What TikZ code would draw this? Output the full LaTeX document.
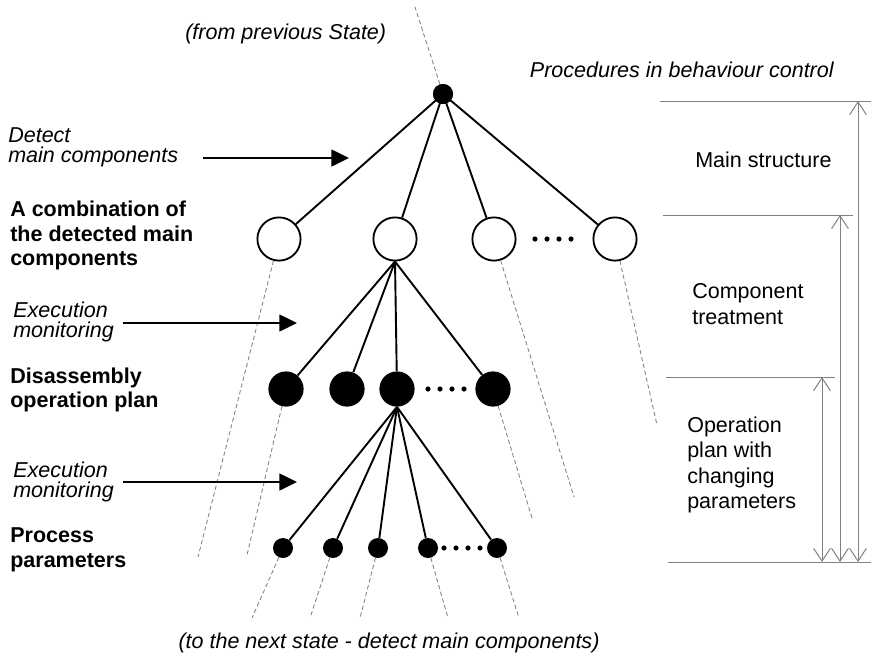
\documentclass[tikz,border=0pt]{standalone}
\usepackage{fontspec}
\setmainfont{Liberation Sans}
\usetikzlibrary{arrows.meta}

\begin{document}
\begin{tikzpicture}[
    x=0.025cm, y=-0.025cm, % one unit = one pixel, y runs downwards
    % tree nodes: adjust minimum size to grow/shrink the levels
    hollow/.style={circle,draw,line width=1.3pt,fill=white,minimum size=1.08cm,inner sep=0pt},
    bigdot/.style={circle,fill=black,minimum size=0.88cm,inner sep=0pt},
    smalldot/.style={circle,fill=black,minimum size=0.5cm,inner sep=0pt},
    tinydot/.style={circle,fill=black,minimum size=0.13cm,inner sep=0pt},
    % connectors
    branch/.style={line width=1.35pt},
    trail/.style={gray,line width=0.6pt,dash pattern=on 3pt off 2pt},
    step arrow/.style={line width=1.35pt,-{Triangle[length=0.44cm,width=0.42cm]}},
    dim/.style={gray,line width=0.7pt},
    dimarrow/.style={gray,line width=0.7pt,{Straight Barb[length=0.32cm,width=0.42cm]}-{Straight Barb[length=0.32cm,width=0.42cm]}},
    % texts: font size / line spacing
    note/.style={font=\fontsize{15.3}{14.6}\selectfont\itshape,align=left,inner sep=0pt},
    leveltxt/.style={font=\fontsize{15.3}{17.4}\selectfont\bfseries,align=left,inner sep=0pt},
    rangetxt/.style={font=\fontsize{15.3}{18}\selectfont,align=left,inner sep=0pt}
]
\useasboundingbox (0,0) rectangle (871,660);

% ==============================
% TUNING KNOBS
% ==============================
\def\yTop{94}    % root dot
\def\yA{239}     % main components
\def\yB{389}     % operation plan
\def\yC{548}     % process parameters
\def\xT{8}       % left text column

% ==============================
% TREE
% ==============================
\node[smalldot] (root) at (443,\yTop) {};

% main components
\node[hollow] (c1) at (279,\yA) {};
\node[hollow] (c2) at (395,\yA) {};
\node[hollow] (c3) at (494,\yA) {};
\node[hollow] (c4) at (615,\yA) {};
\foreach \x [count=\i] in {535,547,559,571}
    \node[tinydot] (cd\i) at (\x,\yA) {};

% operation plan
\node[bigdot] (b1) at (286,\yB) {};
\node[bigdot] (b2) at (347,\yB) {};
\node[bigdot] (b3) at (397,\yB) {};
\node[bigdot] (b4) at (493,\yB) {};
\foreach \x [count=\i] in {428,440,452,464}
    \node[tinydot] (bd\i) at (\x,\yB) {};

% process parameters
\node[smalldot] (p1) at (283,\yC) {};
\node[smalldot] (p2) at (333,\yC) {};
\node[smalldot] (p3) at (378,\yC) {};
\node[smalldot] (p4) at (428,\yC) {};
\node[smalldot] (p5) at (497,\yC) {};
\foreach \x [count=\i] in {444,456,468,480}
    \node[tinydot] (pd\i) at (\x,\yC) {};

% branches
\foreach \n in {c1,c2,c3,c4}
    \draw[branch] (root.center) -- (\n);
\foreach \n in {b1,b2,b3,b4}
    \draw[branch] (c2.south) -- (\n);
\foreach \n in {p1,p2,p3,p4,p5}
    \draw[branch] (b3.south) -- (\n);
\node[smalldot] at (root) {}; % keep the root on top of its branches

% ==============================
% DASHED TRAILS (previous / next state)
% ==============================
\coordinate (prev) at (415,7);
\coordinate (t1) at (198,557);
\coordinate (t3) at (574,497);
\coordinate (t4) at (657,425);
\coordinate (u1) at (247,555);
\coordinate (u4) at (532,518);
\coordinate (v1) at (252,618);
\coordinate (v2) at (310,618);
\coordinate (v3) at (360,618);
\coordinate (v4) at (448,618);
\coordinate (v5) at (519,618);

\draw[trail] (root) -- (prev);
\draw[trail] (c1) -- (t1);
\draw[trail] (c3) -- (t3);
\draw[trail] (c4) -- (t4);
\draw[trail] (b1) -- (u1);
\draw[trail] (b4) -- (u4);
\foreach \i in {1,...,5}
    \draw[trail] (p\i) -- (v\i);

\node[note,anchor=west] (fromprev) at (185,34) {(from previous State)};
\node[note] (tonext) at (389,643) {(to the next state - detect main components)};

% ==============================
% LEFT COLUMN: levels and steps
% ==============================
\node[note,anchor=west]     (detect) at (\xT,147.5) {Detect\\main components};
\node[leveltxt,anchor=west] (lvlA)   at (\xT+2,235.5) {A combination of\\the detected main\\components};
\node[note,anchor=west]     (exec1)  at (\xT+5,322) {Execution\\monitoring};
\node[leveltxt,anchor=west] (lvlB)   at (\xT+2,390) {Disassembly\\operation plan};
\node[note,anchor=west]     (exec2)  at (\xT+5,482) {Execution\\monitoring};
\node[leveltxt,anchor=west] (lvlC)   at (\xT+2,550) {Process\\parameters};

\coordinate (s1a) at (203,158);
\coordinate (s1b) at (349,158);
\coordinate (s2a) at (123,323);
\coordinate (s2b) at (297,323);
\coordinate (s3a) at (123,482);
\coordinate (s3b) at (297,482);
\draw[step arrow] (s1a) -- (s1b);
\draw[step arrow] (s2a) -- (s2b);
\draw[step arrow] (s3a) -- (s3b);

% ==============================
% RIGHT COLUMN: procedures in behaviour control
% ==============================
\node[note,anchor=east] (proc) at (834,70) {Procedures in behaviour control};

\coordinate (h0a) at (660,101);  \coordinate (h0b) at (871,101);
\coordinate (h1a) at (663,215);  \coordinate (h1b) at (853,215);
\coordinate (h2a) at (666,377);  \coordinate (h2b) at (835,377);
\coordinate (h3a) at (668,562);  \coordinate (h3b) at (871,562);
\draw[dim] (h0a) -- (h0b);
\draw[dim] (h1a) -- (h1b);
\draw[dim] (h2a) -- (h2b);
\draw[dim] (h3a) -- (h3b);

\coordinate (m0) at (858,101);  \coordinate (m0e) at (858,562);
\coordinate (m1) at (840,215);  \coordinate (m1e) at (840,562);
\coordinate (m2) at (822,377);  \coordinate (m2e) at (822,562);
\draw[dimarrow] (m0) -- (m0e);
\draw[dimarrow] (m1) -- (m1e);
\draw[dimarrow] (m2) -- (m2e);

\node[rangetxt,anchor=west] (rMain) at (695,160) {Main structure};
\node[rangetxt,anchor=west] (rComp) at (692,304) {Component\\treatment};
\node[rangetxt,anchor=west] (rOp)   at (687,465) {Operation\\plan with\\changing\\parameters};
\end{tikzpicture}
\end{document}
